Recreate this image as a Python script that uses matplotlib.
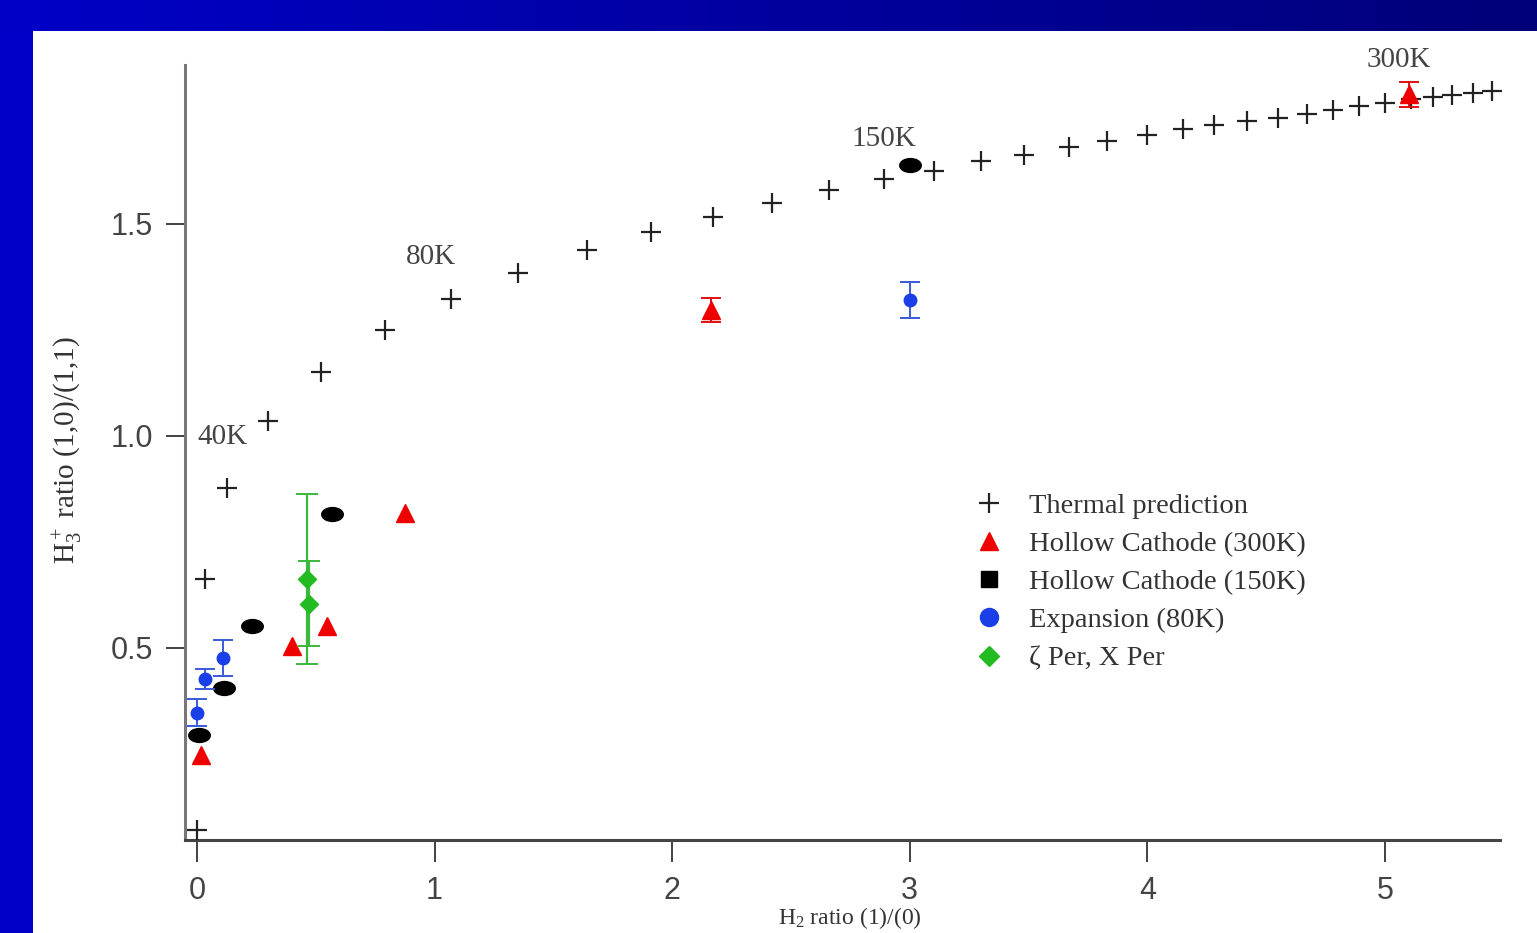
import numpy as np
import matplotlib
matplotlib.use("Agg")
import matplotlib.pyplot as plt
from matplotlib.markers import MarkerStyle
from matplotlib.transforms import Affine2D
from matplotlib.lines import Line2D
from matplotlib.patches import Rectangle

# ---------------- data ----------------
thermal_x = [0.0, 0.034, 0.126, 0.30, 0.52, 0.79, 1.07, 1.35, 1.64, 1.91, 2.17, 2.42,
             2.66, 2.89, 3.10, 3.30, 3.48, 3.67, 3.83, 4.00, 4.15, 4.28, 4.42, 4.55,
             4.67, 4.78, 4.89, 5.00, 5.11, 5.20, 5.28, 5.37, 5.45]
thermal_y = [0.071, 0.663, 0.877, 1.035, 1.151, 1.25, 1.323, 1.384, 1.439, 1.481, 1.517,
             1.55, 1.58, 1.606, 1.625, 1.649, 1.663, 1.682, 1.696, 1.71, 1.724, 1.733,
             1.743, 1.75, 1.759, 1.769, 1.778, 1.785, 1.795, 1.80, 1.804, 1.809, 1.814]

hc300_x = [0.017, 0.40, 0.547, 0.875, 2.163, 5.10]
hc300_y = [0.248, 0.505, 0.552, 0.818, 1.297, 1.806]
hc300_err = [0, 0, 0, 0, 0.028, 0.029]

hc150_x = [0.008, 0.114, 0.231, 0.568, 3.0]
hc150_y = [0.295, 0.406, 0.552, 0.816, 1.639]

exp_x = [0.0, 0.034, 0.109, 3.0]
exp_y = [0.347, 0.427, 0.476, 1.321]
exp_err = [0.032, 0.024, 0.042, 0.042]

per_x = [0.463, 0.471]
per_y = [0.663, 0.604]
per_err = [0.20, 0.10]

temp_labels = ["40K", "80K", "150K", "300K"]
temp_pos_x = [0.105, 0.985, 2.89, 5.06]
temp_pos_y = [0.998, 1.422, 1.700, 1.887]

legend_labels = ["Thermal prediction", "Hollow Cathode (300K)", "Hollow Cathode (150K)",
                 "Expansion (80K)", "\u03b6 Per, X Per"]

x_ticks = [0, 1, 2, 3, 4, 5]
y_ticks = [0.5, 1.0, 1.5]
y_tick_labels = ["0.5", "1.0", "1.5"]

# ---------------- style ----------------
plt.rcParams['mathtext.fontset'] = 'custom'
plt.rcParams['mathtext.rm'] = 'Liberation Serif'
plt.rcParams['mathtext.it'] = 'Liberation Serif:italic'
SERIF = ['Liberation Serif', 'DejaVu Serif']
SANS = ['Liberation Sans', 'DejaVu Sans']

W, H = 1537, 933
fig = plt.figure(figsize=(W / 100, H / 100), dpi=100)
fig.patch.set_facecolor('#0000C8')

# top gradient strip
ax_top = fig.add_axes([0, 1 - 31 / H, 1, 31 / H], zorder=-5)
grad = np.linspace(0, 1, 256)
c0 = np.array([0, 0, 200]) / 255
c1 = np.array([0, 0, 120]) / 255
img = (c0[None, :] * (1 - grad[:, None]) + c1[None, :] * grad[:, None])[None, :, :]
ax_top.imshow(img, aspect='auto', extent=[0, 1, 0, 1])
ax_top.set_axis_off()

# white panel
fig.patches.append(Rectangle((33 / W, 0), 1 - 33 / W, (H - 31) / H,
                             transform=fig.transFigure, facecolor='white',
                             edgecolor='none', zorder=-10))

# main axes
L, R, T, B = 185, 1500, 65, 840
ax = fig.add_axes([L / W, 1 - B / H, (R - L) / W, (B - T) / H], zorder=1)
ax.set_facecolor('none')
ax.set_xlim(-0.0505, 5.484)
ax.set_ylim(0.047, 1.875)

for s in ['top', 'right']:
    ax.spines[s].set_visible(False)
ax.spines['left'].set_color('#777777')
ax.spines['left'].set_linewidth(2.2)
ax.spines['bottom'].set_color('#444444')
ax.spines['bottom'].set_linewidth(2.2)

ax.set_xticks(x_ticks)
ax.set_xticklabels([str(v) for v in x_ticks])
ax.set_yticks(y_ticks)
ax.set_yticklabels(y_tick_labels)
ax.tick_params(axis='x', direction='out', length=16, width=1.3, color='#333333',
               pad=10, labelsize=22, labelcolor='#444444')
ax.tick_params(axis='y', direction='out', length=14, width=1.3, color='#333333',
               pad=9, labelsize=22, labelcolor='#444444')
for lab in ax.get_xticklabels() + ax.get_yticklabels():
    lab.set_family(SANS)

# thermal prediction
ax.plot(thermal_x, thermal_y, linestyle='none', marker='+', markersize=14,
        markeredgewidth=1.6, color='#222222', zorder=3, clip_on=False)

# hollow cathode 150K (wide oval markers)
oval = MarkerStyle('o', transform=Affine2D().scale(1.55, 1.0))
ax.plot(hc150_x, hc150_y, linestyle='none', marker=oval, markersize=10,
        color='black', zorder=4)

# hollow cathode 300K
sel = [i for i, e in enumerate(hc300_err) if e > 0]
ax.errorbar([hc300_x[i] for i in sel], [hc300_y[i] for i in sel],
            yerr=[hc300_err[i] for i in sel], fmt='none', ecolor='#e01010',
            elinewidth=1.4, capsize=7, capthick=1.4, zorder=4)
ax.plot(hc300_x, hc300_y, linestyle='none', marker='^', markersize=13,
        color='#ee0000', zorder=5, clip_on=False)

# expansion 80K
ax.errorbar(exp_x, exp_y, yerr=exp_err, fmt='none', ecolor='#3a5ad8',
            elinewidth=1.4, capsize=7, capthick=1.4, zorder=4)
ax.plot(exp_x, exp_y, linestyle='none', marker='o', markersize=9,
        color='#1a3ee8', zorder=5)

# zeta Per, X Per
ax.errorbar(per_x, per_y, yerr=per_err, fmt='none', ecolor='#3cb83c',
            elinewidth=1.6, capsize=8, capthick=1.4, zorder=4)
ax.plot(per_x, per_y, linestyle='none', marker='D', markersize=9,
        color='#22bb22', zorder=5)

# temperature annotations
for t, x, y in zip(temp_labels, temp_pos_x, temp_pos_y):
    ax.text(x, y, t, ha='center', va='center', fontsize=21, family=SERIF,
            color='#444444', zorder=6, clip_on=False)

# axis labels
ax.set_ylabel(r'H$_3^+$ ratio (1,0)/(1,1)', fontsize=21, family=SERIF,
              color='#333333', va='center')
ax.yaxis.set_label_coords((68 - L) / (R - L), (B - 450) / (B - T))
ax.set_xlabel(r'H$_2$ ratio (1)/(0)', fontsize=17, family=SERIF, color='#333333',
              va='top')
ax.xaxis.set_label_coords((850 - L) / (R - L), (B - 905) / (B - T))

# legend
handles = [
    Line2D([], [], linestyle='none', marker='+', markersize=14, markeredgewidth=1.6, color='#222222'),
    Line2D([], [], linestyle='none', marker='^', markersize=13, color='#ee0000'),
    Line2D([], [], linestyle='none', marker='s', markersize=12, color='black'),
    Line2D([], [], linestyle='none', marker='o', markersize=13, color='#1a3ee8'),
    Line2D([], [], linestyle='none', marker='D', markersize=10, color='#22bb22'),
]
leg = ax.legend(handles, legend_labels, loc='upper left',
                bbox_to_anchor=(975 / W, 1 - 493 / H), bbox_transform=fig.transFigure,
                frameon=False, borderpad=0, borderaxespad=0, handlelength=1.0,
                handletextpad=0.9, labelspacing=0.43, numpoints=1,
                prop={'family': SERIF, 'size': 20.5})
for txt in leg.get_texts():
    txt.set_color('#333333')

fig.savefig('out.png', dpi=100, facecolor=fig.get_facecolor())
